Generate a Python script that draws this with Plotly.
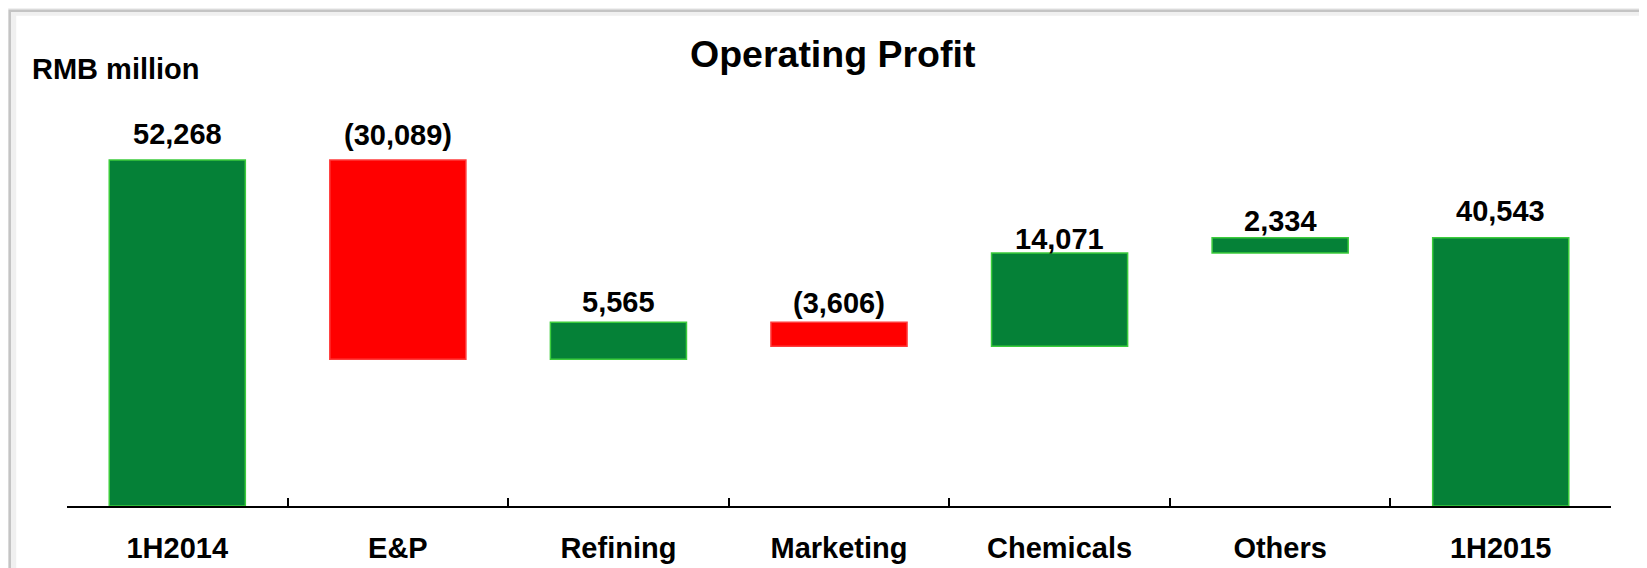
import plotly.graph_objects as go

# ---- data ----
categories = ["1H2014", "E&P", "Refining", "Marketing", "Chemicals", "Others", "1H2015"]
values = [52268, -30089, 5565, -3606, 14071, 2334, 40543]
measures = ["absolute", "relative", "relative", "relative", "relative", "relative", "total"]
title_text = "Operating Profit"
unit_text = "RMB million"

# ---- styling ----
GREEN = "#058137"
GREEN_EDGE = "#3ccc3c"
RED = "#ff0000"
RED_EDGE = "#ff3b3b"
FONT = "Liberation Sans, Arial, sans-serif"
label_yshift = [8, 7, 2, 1, -4, -1, 9]  # per-label pixel nudges, mimicking the original


def fmt(v):
    return f"({abs(v):,})" if v < 0 else f"{v:,}"


# compute bar tops for label placement
tops = []
running = 0
for v, m in zip(values, measures):
    if m == "absolute":
        running = v
        tops.append(v)
    elif m == "total":
        tops.append(running)
    else:
        start = running
        running = running + v
        tops.append(max(start, running))

fig = go.Figure()
fig.add_trace(go.Waterfall(
    x=categories,
    y=values,
    measure=measures,
    width=0.617,
    increasing=dict(marker=dict(color=GREEN, line=dict(color=GREEN_EDGE, width=1.5))),
    decreasing=dict(marker=dict(color=RED, line=dict(color=RED_EDGE, width=1.5))),
    totals=dict(marker=dict(color=GREEN, line=dict(color=GREEN_EDGE, width=1.5))),
    connector=dict(visible=False),
    hoverinfo="x+y",
))

annotations = []
for c, t, v, ys in zip(categories, tops, values, label_yshift):
    annotations.append(dict(
        x=c, y=t, xref="x", yref="y", text=f"<b>{fmt(v)}</b>",
        showarrow=False, yanchor="bottom", yshift=ys,
        font=dict(family=FONT, size=29, color="black"),
    ))

annotations.append(dict(
    x=0.496, y=1.1134, xref="paper", yref="paper", text=f"<b>{title_text}</b>",
    showarrow=False, xanchor="center", yanchor="middle",
    font=dict(family=FONT, size=37.5, color="black"),
))
annotations.append(dict(
    x=-0.0238, y=1.0764, xref="paper", yref="paper", text=f"<b>{unit_text}</b>",
    showarrow=False, xanchor="left", yanchor="middle",
    font=dict(family=FONT, size=29, color="black"),
))

shapes = [
    # outer frame (shadowed panel border)
    dict(type="rect", xref="paper", yref="paper",
         x0=-0.0355, x1=1.05, y0=-0.2, y1=1.2172,
         line=dict(color="#f0f0f0", width=8), fillcolor="rgba(0,0,0,0)", layer="below"),
    dict(type="rect", xref="paper", yref="paper",
         x0=-0.0371, x1=1.05, y0=-0.2, y1=1.2197,
         line=dict(color="#c4c4c4", width=2.5), fillcolor="rgba(0,0,0,0)", layer="below"),
]

fig.update_layout(
    width=1639, height=560,
    margin=dict(l=59, r=36, t=92, b=62, pad=0),
    paper_bgcolor="white", plot_bgcolor="white",
    showlegend=False,
    annotations=annotations,
    shapes=shapes,
    xaxis=dict(
        type="category", showline=True, linecolor="black", linewidth=2,
        ticks="inside", ticklen=8, tickwidth=2, tickcolor="black",
        tickson="boundaries", showgrid=False, zeroline=False,
        tickfont=dict(family=FONT, size=29, color="black"),
        ticklabelstandoff=15,
        tickprefix="<b>", ticksuffix="</b>",
        automargin=False,
    ),
    yaxis=dict(visible=False, range=[0, 61340], showgrid=False, zeroline=False),
)

fig.write_html("out.html")
